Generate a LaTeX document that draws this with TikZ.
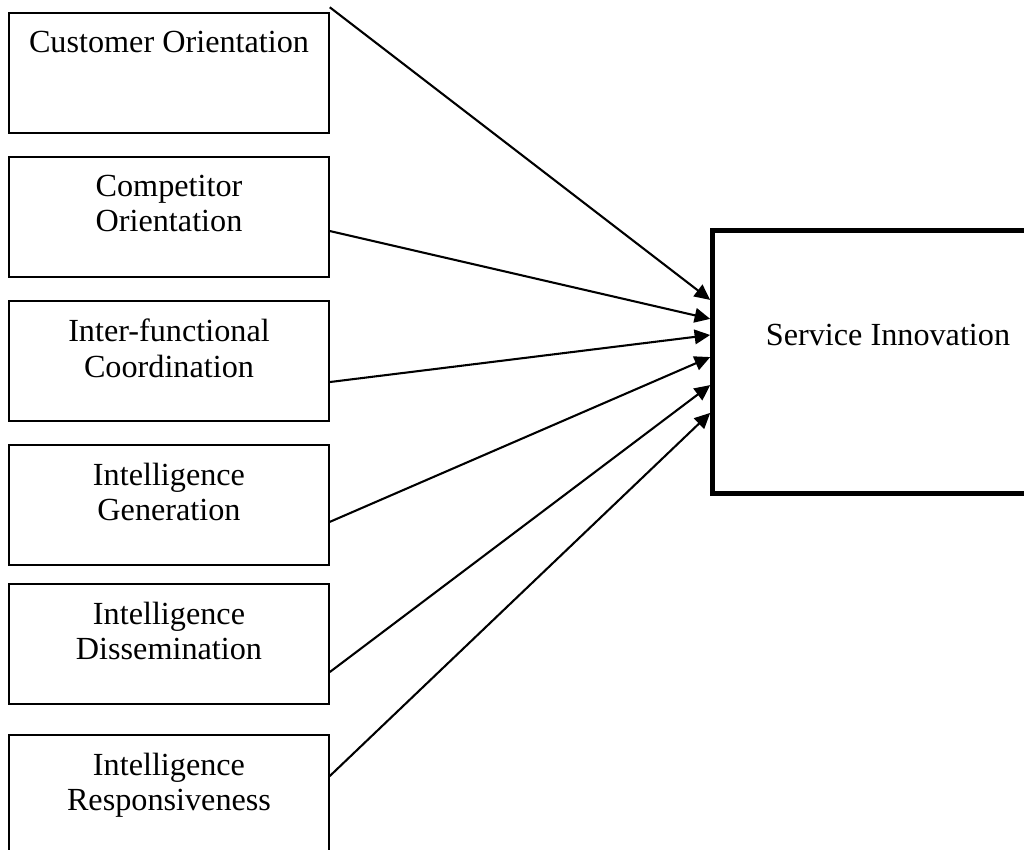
\documentclass[tikz,border=0pt]{standalone}
\usepackage{fontspec}
\setmainfont{Liberation Serif}
\usetikzlibrary{arrows.meta}

\tikzset{factor/.style={draw,line width=0.8pt,minimum width=123pt,minimum height=46pt,inner sep=0pt},
         factortext/.style={anchor=north,inner sep=0pt,yshift=-7.1pt,align=center,font=\fontsize{12.4}{13.6}\selectfont},
         outcome/.style={draw,line width=1.9pt,minimum width=135pt,minimum height=101.5pt,inner sep=0pt},
         link/.style={line width=0.8pt,-{Triangle[length=6pt,width=5.6pt]}}}

\begin{document}
\begin{tikzpicture}[x=0.385pt,y=-0.385pt]
        \useasboundingbox (0,0) rectangle (1024,850);
        \clip (0,0) rectangle (1024,850);
        \node[factor,label={[factortext]north:Customer Orientation}] (cust) at (169,73) {};
        \node[factor,label={[factortext]north:Competitor\\Orientation}] (comp) at (169,217) {};
        \node[factor,label={[factortext]north:Inter-functional\\Coordination}] (coord) at (169,361) {};
        \node[factor,label={[factortext]north:Intelligence\\Generation}] (igen) at (169,505) {};
        \node[factor,label={[factortext]north:Intelligence\\Dissemination}] (idis) at (169,644) {};
        \node[factor,label={[factortext]north:Intelligence\\Responsiveness}] (iresp) at (169,795) {};
        \node[outcome] (serv) at (888,362) {};
        \node[anchor=base,inner sep=0pt,font=\fontsize{12.4}{13.6}\selectfont] (servtext) at ([yshift=6.5pt]serv.center) {Service Innovation};
        \draw[link] ([yshift=1.9pt]cust.north east) -- ([yshift=23.9pt]serv.west);
        \draw[link] ([yshift=-5.4pt]comp.east) -- ([yshift=16.6pt]serv.west);
        \draw[link] ([yshift=-8.1pt]coord.east) -- ([yshift=10.4pt]serv.west);
        \draw[link] ([yshift=-6.5pt]igen.east) -- ([yshift=1.9pt]serv.west);
        \draw[link] ([yshift=-10.8pt]idis.east) -- ([yshift=-8.9pt]serv.west);
        \draw[link] ([yshift=7.3pt]iresp.east) -- ([yshift=-19.6pt]serv.west);
    \end{tikzpicture}
\end{document}
